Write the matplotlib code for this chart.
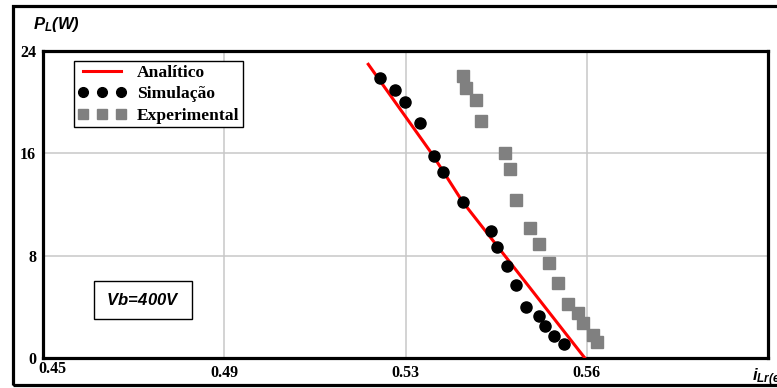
import matplotlib
matplotlib.use("Agg")
import matplotlib.pyplot as plt
from matplotlib.patches import Rectangle
from matplotlib.lines import Line2D
from matplotlib.transforms import ScaledTranslation

plt.rcParams['mathtext.fontset'] = 'custom'
plt.rcParams['mathtext.it'] = 'Liberation Sans:bold:italic'
plt.rcParams['mathtext.rm'] = 'Liberation Sans:bold:italic'

# analytic curve
ana_i = [0.5173, 0.5304, 0.5368, 0.5449, 0.5621]
ana_p = [22.96, 16.00, 12.22, 8.31, 0.0]

# simulation points
sim_i = [0.5197, 0.5228, 0.5248, 0.5279, 0.5308, 0.5327, 0.5368, 0.5426,
         0.5439, 0.5459, 0.5479, 0.5499, 0.5527, 0.5539, 0.5558, 0.5578]
sim_p = [21.87, 20.95, 20.04, 18.35, 15.82, 14.57, 12.20, 9.95,
         8.70, 7.22, 5.71, 4.01, 3.28, 2.50, 1.72, 1.09]

# experimental points
exp_i = [0.5368, 0.5376, 0.5396, 0.5407, 0.5455, 0.5466, 0.5478, 0.5507,
         0.5526, 0.5546, 0.5566, 0.5586, 0.5606, 0.5618, 0.5637, 0.5647]
exp_p = [22.05, 21.13, 20.17, 18.53, 16.00, 14.75, 12.35, 10.14,
         8.89, 7.40, 5.89, 4.20, 3.49, 2.71, 1.80, 1.27]

x_ticks = [0.45, 0.4875, 0.525, 0.5625]
x_labels = ["0.45", "0.49", "0.53", "0.56"]
y_ticks = [0, 8, 16, 24]
y_labels = ["0", "8", "16", "24"]

fig = plt.figure(figsize=(7.77, 3.88), dpi=100)
ax = fig.add_axes([43/777, 30/388, 725/777, 307/388])

# outer frame of the figure
fig.patches.append(Rectangle((12.5/777, 3/388), 1.0, 1 - 6/388 - 3/388,
                             transform=fig.transFigure, fill=False,
                             edgecolor='black', linewidth=2.3, zorder=0))

ax.plot(ana_i, ana_p, color='red', linewidth=2.2, zorder=3)
ax.plot(sim_i, sim_p, linestyle='none', marker='o', markersize=8,
        color='black', zorder=4)
ax.plot(exp_i, exp_p, linestyle='none', marker='s', markersize=8,
        color='#808080', zorder=4)

ax.set_xlim(0.45, 0.6)
ax.set_ylim(0, 24)
tick_font = dict(family='Liberation Serif', weight='bold', size=11.5)
ax.set_xticks(x_ticks)
ax.set_xticklabels(x_labels, fontdict=tick_font)
ax.set_yticks(y_ticks)
ax.set_yticklabels(y_labels, fontdict=tick_font)
ax.tick_params(length=0, pad=5)
ax.grid(True, color='#c8c8c8', linewidth=1.1)
ax.set_axisbelow(True)
for s in ax.spines.values():
    s.set_linewidth(2.3)

# first x label sits left-aligned, a bit higher
first = ax.get_xticklabels()[0]
first.set_ha('left')
first.set_transform(first.get_transform() +
                    ScaledTranslation(-5/100, 4/100, fig.dpi_scale_trans))

handles = [
    Line2D([], [], color='red', linewidth=2.2),
    Line2D([], [], linestyle='none', marker='o', markersize=7, color='black'),
    Line2D([], [], linestyle='none', marker='s', markersize=7, color='#808080'),
]
leg = ax.legend(handles, ["Analítico", "Simulação", "Experimental"],
                loc='upper left', bbox_to_anchor=(31/725, 1 - 10/307),
                borderaxespad=0, numpoints=3, handlelength=2.8,
                handletextpad=0.6, labelspacing=0.3, borderpad=0.2,
                fancybox=False, framealpha=1,
                prop=dict(family='Liberation Serif', weight='bold', size=12.6))
leg.get_frame().set_edgecolor('black')
leg.get_frame().set_linewidth(1.0)

# Vb box
ax.add_patch(Rectangle((51/725, 38.7/307), 98/725, 38.6/307,
                       transform=ax.transAxes, fill=False,
                       edgecolor='black', linewidth=1.0, zorder=5))
ax.text(0.1379, 0.189, r'$Vb\!=\!400V$', transform=ax.transAxes,
        ha='center', va='center', fontsize=12, zorder=6)

fig.text(33/777, 1 - 24/388, r'$P_{L}(W)$', ha='left', va='center', fontsize=12)
fig.text(752/777, 1 - 378/388, r'$i_{Lr(ef)}$', ha='left', va='center', fontsize=12)

fig.savefig("out.png", dpi=100)
